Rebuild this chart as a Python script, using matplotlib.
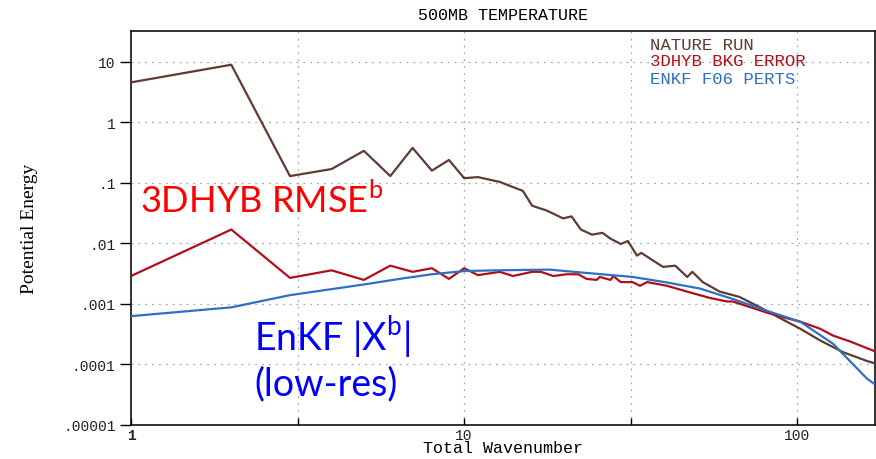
import matplotlib
matplotlib.use("Agg")
import matplotlib.pyplot as plt
from matplotlib.ticker import FixedLocator, NullLocator

# ---------------- data ----------------
nature_k = [1, 2, 3, 4, 5, 6, 7, 8, 9, 10, 11, 12.8, 15, 16, 17.7, 19.8, 21, 22.4,
            24.2, 26, 27.5, 29.5, 31, 33, 34, 39.5, 43, 46.7, 48.4, 52, 58.5, 67,
            77, 90, 102, 117, 137, 162, 171]
nature_v = [4.6, 9.0, 0.13, 0.17, 0.34, 0.13, 0.38, 0.16, 0.24, 0.12, 0.125, 0.104,
            0.074, 0.042, 0.035, 0.026, 0.028, 0.017, 0.014, 0.015, 0.012, 0.0098,
            0.011, 0.0063, 0.0070, 0.0041, 0.0043, 0.0028, 0.0034, 0.0023, 0.0016,
            0.00131, 0.00089, 0.00056, 0.00039, 0.00025, 0.00016, 0.000114, 0.000104]

hyb_k = [1, 2, 3, 4, 5, 6, 7, 8, 9, 10, 11, 12.8, 14, 16, 17, 18.5, 20.3, 22, 23.3,
         25, 25.5, 27.5, 28, 29.5, 32, 33.7, 35.4, 40.6, 46.7, 54.6, 61.5, 64, 72,
         81, 90, 102, 117, 128, 144, 171]
hyb_v = [0.0029, 0.017, 0.0027, 0.0036, 0.0025, 0.0043, 0.0034, 0.0039, 0.0026,
         0.0039, 0.0030, 0.0034, 0.0029, 0.0034, 0.0034, 0.0029, 0.0031, 0.0031,
         0.0026, 0.0025, 0.0028, 0.0025, 0.0029, 0.0023, 0.0023, 0.0020, 0.0023,
         0.0020, 0.0016, 0.00126, 0.0011, 0.0011, 0.00089, 0.00072, 0.00061,
         0.00051, 0.00039, 0.00030, 0.00024, 0.000165]

enkf_k = [1, 2, 3, 5, 6.4, 8, 10, 12.5, 18, 22.7, 32, 40, 51, 64, 81, 102, 128, 162, 171]
enkf_v = [0.00063, 0.00088, 0.0014, 0.0021, 0.0026, 0.0031, 0.0035, 0.0036, 0.0037,
          0.0033, 0.0028, 0.0023, 0.0018, 0.00121, 0.00077, 0.00051, 0.00022,
          0.000058, 0.000047]

series_labels = ["NATURE RUN", "3DHYB BKG ERROR", "ENKF F06 PERTS"]
y_ticks = [1e-5, 1e-4, 1e-3, 1e-2, 1e-1, 1, 10]
y_tick_labels = [".00001", ".0001", ".001", ".01", ".1", "1", "10"]
x_ticks = [1, 10, 100]
x_tick_labels = ["1", "10", "100"]
x_minor_ticks = [10 ** 0.5, 10 ** 1.5]

title = "500MB TEMPERATURE"
xlabel = "Total Wavenumber"
ylabel = "Potential Energy"

# ---------------- styling ----------------
c_nat = "#5e3c33"
c_hyb = "#b0101a"
c_enkf = "#2f6fc4"
mono = "Liberation Mono"

fig = plt.figure(figsize=(8.76, 4.60), dpi=100)
ax = fig.add_axes([131 / 876, 1 - 426 / 460, 744 / 876, 394 / 460])

ax.plot(nature_k, nature_v, color=c_nat, lw=1.6, zorder=3)
ax.plot(hyb_k, hyb_v, color=c_hyb, lw=1.6, zorder=4)
ax.plot(enkf_k, enkf_v, color=c_enkf, lw=1.6, zorder=5)

ax.set_xscale("log")
ax.set_yscale("log")
ax.set_xlim(1, 171)
ax.set_ylim(1e-5, 32.5)

ax.yaxis.set_major_locator(FixedLocator(y_ticks))
ax.yaxis.set_minor_locator(NullLocator())
ax.set_yticklabels(y_tick_labels, fontfamily=mono, fontsize=10.5, color="#222222")
ax.xaxis.set_major_locator(FixedLocator(x_ticks))
ax.xaxis.set_minor_locator(FixedLocator(x_minor_ticks))
ax.set_xticklabels(x_tick_labels, fontfamily=mono, fontsize=10.5, color="#222222")
ax.get_xticklabels()[0].set_fontweight("bold")
ax.tick_params(axis="y", which="major", direction="out", length=8, width=1, pad=3)
ax.tick_params(axis="x", which="both", direction="in", length=5, width=1, pad=2)

# grid: horizontal at decades, vertical at half decades
for yv in y_ticks[1:]:
    ax.axhline(yv, color="#aaaaaa", lw=0.9, ls=(0, (1.5, 4)), zorder=1)
for xv in [10 ** 0.5, 10, 10 ** 1.5, 100]:
    ax.axvline(xv, color="#aaaaaa", lw=0.9, ls=(0, (1.5, 4)), zorder=1)

for s in ax.spines.values():
    s.set_color("#111111")
    s.set_linewidth(1.2)

ax.set_xlabel(xlabel, fontfamily=mono, fontsize=12, labelpad=-1)
ax.set_ylabel(ylabel, fontfamily="Liberation Serif", fontsize=14, labelpad=18)
fig.text(503 / 876, 1 - 16 / 460, title, ha="center", va="center",
         fontfamily=mono, fontsize=12)

# legend as colored text
for i, (lab, col) in enumerate(zip(series_labels, [c_nat, c_hyb, c_enkf])):
    fig.text(650 / 876, 1 - (45 + i * 17) / 460, lab, ha="left", va="center",
             fontfamily=mono, fontsize=12.5, color=col)

# annotations
ann_font = "Lato"
fig.text(140 / 876, 1 - 213 / 460, r"3DHYB RMSE$^{\mathregular{b}}$",
         ha="left", va="baseline", fontfamily=ann_font, fontsize=26, color="#ff0000")
fig.text(254 / 876, 1 - 350 / 460, r"EnKF |X$^{\mathregular{b}}$|",
         ha="left", va="baseline", fontfamily=ann_font, fontsize=27, color="#0000ff")
fig.text(254 / 876, 1 - 395 / 460, "(low-res)",
         ha="left", va="baseline", fontfamily=ann_font, fontsize=27, color="#0000ff")

fig.savefig("out.png", dpi=100)
